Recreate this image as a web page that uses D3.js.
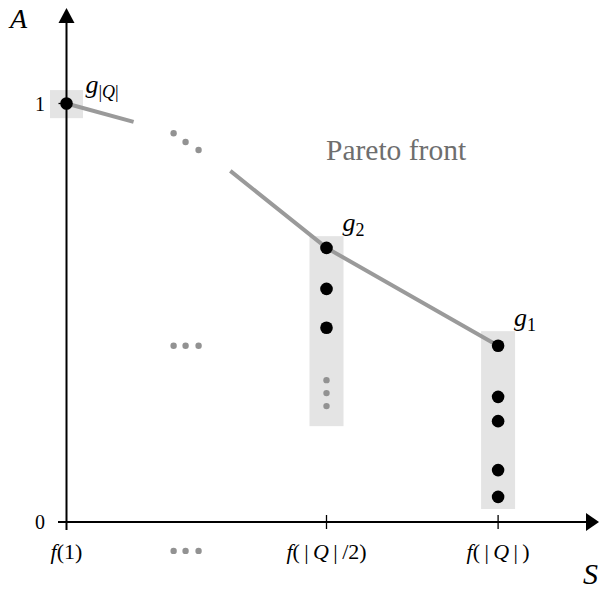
<!DOCTYPE html>
<html><head><meta charset="utf-8">
<script src="https://cdn.jsdelivr.net/npm/d3@7"></script>
<style>body{margin:0;background:#fff}svg{display:block}text{white-space:pre}</style>
</head><body>
<script>
// ---- data ----
const xTickVals = [0, 0.5, 0.83];
const xTickLabels = [["f","(1)"], ["f","(\u2009|\u2009","Q","\u2009|\u2009/2)"], ["f","(\u2009|\u2009","Q","\u2009|\u2009)"]];
const yTickVals = [0, 1];
const yTickLabels = ["0", "1"];
const groupS = [0.83, 0.5, 0];
const groupNames = ["1", "2", "|Q|"];
const g1Values = [0.421, 0.299, 0.241, 0.124, 0.060];
const g2Values = [0.655, 0.557, 0.464];
const gQValues = [1];
const g2MoreValues = [0.339, 0.308, 0.277];
const boxTop = [0.456, 0.683, 1.032];
const boxBottom = [0.031, 0.229, 0.965];
const front1S = [0, 0.129];
const front1A = [1, 0.956];
const front2S = [0.315, 0.5, 0.83];
const front2A = [0.839, 0.655, 0.421];
const frontGapS = [0.206, 0.229, 0.254];
const frontGapA = [0.929, 0.908, 0.889];
const midDotsS = [0.206, 0.229, 0.254];
const midDotsA = [0.421, 0.421, 0.421];
const axisDotsA = [-0.069, -0.069, -0.069];

const W = 600, H = 590;
const x = d3.scaleLinear().domain([0, 1]).range([66.5, 586.5]);
const y = d3.scaleLinear().domain([0, 1]).range([522, 103.5]);

const svg = d3.select("body").append("svg").attr("width", W).attr("height", H);
const serif = "'Liberation Serif','DejaVu Serif',serif";

// boxes
const boxW = [34, 34, 33];
svg.selectAll("rect.box").data(groupS).enter().append("rect")
  .attr("x", (d, i) => x(d) - boxW[i] / 2)
  .attr("y", (d, i) => y(boxTop[i]))
  .attr("width", (d, i) => boxW[i])
  .attr("height", (d, i) => y(boxBottom[i]) - y(boxTop[i]))
  .attr("fill", "#e4e4e4");

// pareto front
const line = d3.line().x(d => x(d[0])).y(d => y(d[1]));
[[front1S, front1A], [front2S, front2A]].forEach(([s, a]) => {
  svg.append("path").attr("d", line(s.map((v, i) => [v, a[i]])))
    .attr("fill", "none").attr("stroke", "#9a9a9a").attr("stroke-width", 4)
    .attr("stroke-linecap", "butt");
});

// gray ellipsis dots
const grayDots = [];
frontGapS.forEach((s, i) => grayDots.push([s, frontGapA[i]]));
midDotsS.forEach((s, i) => grayDots.push([s, midDotsA[i]]));
midDotsS.forEach((s, i) => grayDots.push([s, axisDotsA[i]]));
g2MoreValues.forEach(a => grayDots.push([groupS[1], a]));
svg.selectAll("circle.gray").data(grayDots).enter().append("circle")
  .attr("cx", d => x(d[0])).attr("cy", d => y(d[1])).attr("r", 3.2).attr("fill", "#929292");

// axes
const axisG = svg.append("g").attr("stroke", "#000").attr("stroke-width", 2);
axisG.append("line").attr("x1", x(0)).attr("x2", x(0)).attr("y1", 530).attr("y2", 20);
axisG.append("line").attr("x1", 58).attr("x2", 590).attr("y1", y(0)).attr("y2", y(0));
svg.append("path").attr("d", `M${x(0)},8 L${x(0)-8},23 L${x(0)+8},23 Z`).attr("fill", "#000");
svg.append("path").attr("d", `M599,${y(0)} L586,${y(0)-9} L586,${y(0)+9} Z`).attr("fill", "#000");
// ticks
svg.selectAll("line.xt").data(xTickVals.slice(1)).enter().append("line")
  .attr("x1", d => x(d)).attr("x2", d => x(d)).attr("y1", y(0) - 7).attr("y2", y(0) + 7)
  .attr("stroke", "#000").attr("stroke-width", 1.3);
svg.selectAll("line.yt").data(yTickVals).enter().append("line")
  .attr("x1", x(0) - 8).attr("x2", x(0)).attr("y1", d => y(d)).attr("y2", d => y(d))
  .attr("stroke", "#000").attr("stroke-width", 1.3);

// black points
const blackPts = [];
g1Values.forEach(a => blackPts.push([groupS[0], a]));
g2Values.forEach(a => blackPts.push([groupS[1], a]));
gQValues.forEach(a => blackPts.push([groupS[2], a]));
svg.selectAll("circle.pt").data(blackPts).enter().append("circle")
  .attr("cx", d => x(d[0])).attr("cy", d => y(d[1])).attr("r", 6.3).attr("fill", "#000");

// tick labels
svg.selectAll("text.yl").data(yTickVals).enter().append("text")
  .attr("x", 40).attr("y", d => y(d) + 7).attr("text-anchor", "middle")
  .attr("font-family", serif).attr("font-size", 20).text((d, i) => yTickLabels[i]);
const xl = svg.selectAll("text.xl").data(xTickVals).enter().append("text")
  .attr("x", d => x(d)).attr("y", 559).attr("text-anchor", "middle")
  .attr("font-family", serif).attr("font-size", 22);
xl.each(function(d, i) {
  const t = d3.select(this);
  xTickLabels[i].forEach((part, j) => {
    t.append("tspan").attr("font-style", (part === "f" || part === "Q") ? "italic" : "normal").text(part);
  });
});

// group labels
const gLab = svg.selectAll("text.gl").data(groupS).enter().append("text")
  .attr("x", (d, i) => x(d) + (i === 2 ? 19 : 16))
  .attr("y", (d, i) => y(i === 2 ? gQValues[0] : (i === 1 ? g2Values[0] : g1Values[0])) - (i === 2 ? 11 : (i === 1 ? 17 : 20)))
  .attr("font-family", serif).attr("font-size", 26);
gLab.each(function(d, i) {
  const t = d3.select(this);
  t.append("tspan").attr("font-style", "italic").text("g");
  const sub = t.append("tspan").attr("dy", 5).attr("font-size", 18);
  if (groupNames[i] === "|Q|") {
    sub.append("tspan").text("|");
    sub.append("tspan").attr("font-style", "italic").text("Q");
    sub.append("tspan").text("|");
  } else sub.text(groupNames[i]);
});

// axis titles
svg.append("text").attr("x", 10).attr("y", 28).attr("font-family", serif)
  .attr("font-style", "italic").attr("font-size", 28).text("A");
svg.append("text").attr("x", 583).attr("y", 584).attr("font-family", serif)
  .attr("font-style", "italic").attr("font-size", 30).text("S");

// Pareto front label
svg.append("text").attr("x", 326).attr("y", 160).attr("font-family", serif)
  .attr("font-size", 29.5).attr("fill", "#6e6e6e").text("Pareto front");
</script>
</body></html>
